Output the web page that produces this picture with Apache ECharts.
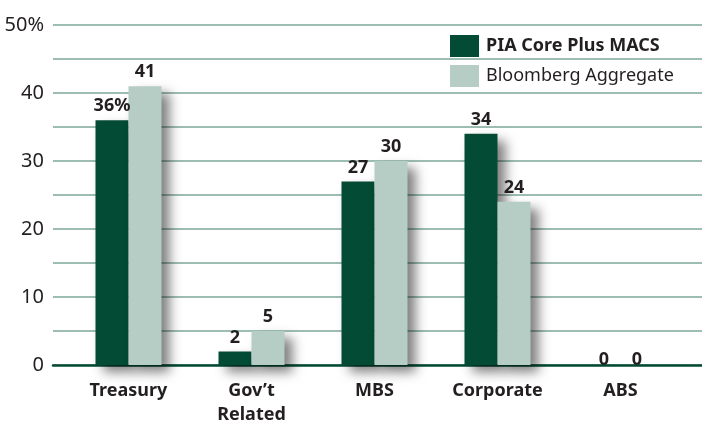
<!DOCTYPE html>
<html>
<head>
<meta charset="utf-8">
<script src="https://cdn.jsdelivr.net/npm/echarts@6/dist/echarts.min.js"></script>
<style>
html,body{margin:0;padding:0;background:#fff;}
#chart{width:702px;height:423px;}
</style>
</head>
<body>
<div id="chart"></div>
<script>
var categories = ['Treasury', 'Gov\u2019t\nRelated', 'MBS', 'Corporate', 'ABS'];
var piaCore = [36, 2, 27, 34, 0];
var bbgAgg = [41, 5, 30, 24, 0];
var yTickLabels = ['0', '10', '20', '30', '40', '50%'];
var seriesNames = ['PIA Core Plus MACS', 'Bloomberg Aggregate'];

var font = "'Noto Sans', sans-serif";
var dark = '#034b34';
var light = '#b6cdc5';
var txt = '#231f20';

var myChart = echarts.init(document.getElementById('chart'));

function barData(arr, firstSuffix){
	var out = [];
	for(var i=0;i<arr.length;i++){
		var d = {value: arr[i]};
		if(i==0 && firstSuffix){
			d.label = {formatter: '{c}' + firstSuffix};
		}
		// zero labels sit right on the axis line
		if(arr[i]==0){
			d.label = {offset: [0, 9]};
		}
		out.push(d);
	}
	return out;
}

var shadow = {
	shadowBlur: 12,
	shadowOffsetX: 8,
	shadowOffsetY: 7,
	shadowColor: 'rgba(0,0,0,0.5)'
};

var option = {
	animation: false,
	textStyle: {fontFamily: font},
	legend: {
		orient: 'vertical',
		left: 445,
		top: 30,
		itemWidth: 29,
		itemHeight: 22,
		itemGap: 8,
		icon: 'rect',
		textStyle: {fontFamily: font, fontSize: 18, color: txt, padding: [0,0,0,2]},
		data: [
			{name: seriesNames[0], textStyle: {fontWeight: 'bold'}},
			{name: seriesNames[1], textStyle: {fontWeight: 'normal'}}
		]
	},
	grid: [
		{left: 67, right: 20, top: 25, bottom: 58, outerBoundsMode: 'none'},
		{left: 53, right: 0, top: 25, bottom: 58, outerBoundsMode: 'none'}
	],
	xAxis: [
		{
			type: 'category',
			gridIndex: 0,
			data: categories,
			axisLine: {show: false},
			axisTick: {show: false},
			axisLabel: {
				fontFamily: font,
				fontSize: 18,
				fontWeight: 'bold',
				color: txt,
				margin: 14,
				lineHeight: 24
			}
		},
		{
			type: 'value',
			gridIndex: 1,
			min: 0,
			max: 1,
			axisLine: {show: true, lineStyle: {color: dark, width: 2.5}},
			axisTick: {show: false},
			axisLabel: {show: false},
			splitLine: {show: false}
		}
	],
	yAxis: [
		{
			type: 'value',
			gridIndex: 0,
			min: 0,
			max: 50,
			show: false
		},
		{
			type: 'value',
			gridIndex: 1,
			min: 0,
			max: 50,
			interval: 5,
			axisLine: {show: false},
			axisTick: {show: false},
			axisLabel: {
				fontFamily: font,
				fontSize: 20,
				color: txt,
				margin: 9,
				formatter: function(v){
					if(v % 10 != 0) return '';
					return yTickLabels[v / 10];
				}
			},
			splitLine: {
				show: true,
				lineStyle: {color: '#7ea798', width: 1.5}
			}
		}
	],
	series: [
		{
			name: seriesNames[0],
			type: 'bar',
			xAxisIndex: 0,
			yAxisIndex: 0,
			barWidth: 33,
			barGap: '0%',
			itemStyle: Object.assign({color: dark}, shadow),
			label: {
				show: true,
				position: 'top',
				distance: 5,
				fontFamily: font,
				fontSize: 18,
				fontWeight: 'bold',
				color: txt
			},
			data: barData(piaCore, '%')
		},
		{
			name: seriesNames[1],
			type: 'bar',
			xAxisIndex: 0,
			yAxisIndex: 0,
			barWidth: 33,
			barGap: '0%',
			itemStyle: Object.assign({color: light}, shadow),
			label: {
				show: true,
				position: 'top',
				distance: 5,
				fontFamily: font,
				fontSize: 18,
				fontWeight: 'bold',
				color: txt
			},
			data: barData(bbgAgg, '')
		}
	]
};
myChart.setOption(option);
</script>
</body>
</html>
